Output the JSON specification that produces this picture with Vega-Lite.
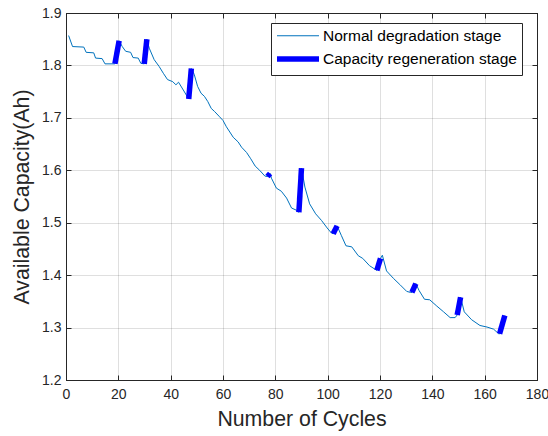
{
  "$schema": "https://vega.github.io/schema/vega-lite/v6.json",
  "width": 471,
  "height": 367,
  "autosize": "none",
  "padding": {"left": 66, "top": 13, "right": 11, "bottom": 56},
  "background": "white",
  "config": {
    "font": "Liberation Sans",
    "view": {"stroke": "#262626", "strokeWidth": 1},
    "axis": {
      "labelFont": "Liberation Sans",
      "titleFont": "Liberation Sans",
      "labelColor": "#262626",
      "titleColor": "#262626",
      "domainColor": "#262626",
      "tickColor": "#262626",
      "labelFontSize": 14,
      "titleFontSize": 21.3,
      "titleFontWeight": "normal",
      "gridColor": "#262626",
      "gridOpacity": 0.15,
      "tickSize": -5,
      "domainWidth": 1
    }
  },
  "datasets": {
    "normal": [
      {"cycle": 1, "cap": 1.857, "stage": "Normal degradation stage"},
      {"cycle": 2.5, "cap": 1.836, "stage": "Normal degradation stage"},
      {"cycle": 6.8, "cap": 1.835, "stage": "Normal degradation stage"},
      {"cycle": 7.7, "cap": 1.825, "stage": "Normal degradation stage"},
      {"cycle": 10.6, "cap": 1.824, "stage": "Normal degradation stage"},
      {"cycle": 11.3, "cap": 1.814, "stage": "Normal degradation stage"},
      {"cycle": 13.8, "cap": 1.813, "stage": "Normal degradation stage"},
      {"cycle": 14.9, "cap": 1.803, "stage": "Normal degradation stage"},
      {"cycle": 18.7, "cap": 1.803, "stage": "Normal degradation stage"},
      {"cycle": 20.3, "cap": 1.847, "stage": "Normal degradation stage"},
      {"cycle": 21.5, "cap": 1.836, "stage": "Normal degradation stage"},
      {"cycle": 22.8, "cap": 1.827, "stage": "Normal degradation stage"},
      {"cycle": 24.7, "cap": 1.825, "stage": "Normal degradation stage"},
      {"cycle": 25.6, "cap": 1.815, "stage": "Normal degradation stage"},
      {"cycle": 27.6, "cap": 1.814, "stage": "Normal degradation stage"},
      {"cycle": 28.6, "cap": 1.804, "stage": "Normal degradation stage"},
      {"cycle": 29.9, "cap": 1.803, "stage": "Normal degradation stage"},
      {"cycle": 30.9, "cap": 1.850, "stage": "Normal degradation stage"},
      {"cycle": 31.8, "cap": 1.833, "stage": "Normal degradation stage"},
      {"cycle": 33.7, "cap": 1.811, "stage": "Normal degradation stage"},
      {"cycle": 35.6, "cap": 1.798, "stage": "Normal degradation stage"},
      {"cycle": 37.2, "cap": 1.785, "stage": "Normal degradation stage"},
      {"cycle": 38.8, "cap": 1.773, "stage": "Normal degradation stage"},
      {"cycle": 40.8, "cap": 1.769, "stage": "Normal degradation stage"},
      {"cycle": 42.0, "cap": 1.763, "stage": "Normal degradation stage"},
      {"cycle": 43.0, "cap": 1.768, "stage": "Normal degradation stage"},
      {"cycle": 44.6, "cap": 1.755, "stage": "Normal degradation stage"},
      {"cycle": 46.9, "cap": 1.736, "stage": "Normal degradation stage"},
      {"cycle": 47.9, "cap": 1.794, "stage": "Normal degradation stage"},
      {"cycle": 49.0, "cap": 1.783, "stage": "Normal degradation stage"},
      {"cycle": 50.3, "cap": 1.760, "stage": "Normal degradation stage"},
      {"cycle": 51.6, "cap": 1.747, "stage": "Normal degradation stage"},
      {"cycle": 52.9, "cap": 1.741, "stage": "Normal degradation stage"},
      {"cycle": 54.2, "cap": 1.731, "stage": "Normal degradation stage"},
      {"cycle": 55.5, "cap": 1.718, "stage": "Normal degradation stage"},
      {"cycle": 56.8, "cap": 1.712, "stage": "Normal degradation stage"},
      {"cycle": 58.7, "cap": 1.702, "stage": "Normal degradation stage"},
      {"cycle": 60.0, "cap": 1.695, "stage": "Normal degradation stage"},
      {"cycle": 61.3, "cap": 1.683, "stage": "Normal degradation stage"},
      {"cycle": 62.6, "cap": 1.673, "stage": "Normal degradation stage"},
      {"cycle": 63.9, "cap": 1.663, "stage": "Normal degradation stage"},
      {"cycle": 65.8, "cap": 1.654, "stage": "Normal degradation stage"},
      {"cycle": 67.1, "cap": 1.644, "stage": "Normal degradation stage"},
      {"cycle": 69.0, "cap": 1.634, "stage": "Normal degradation stage"},
      {"cycle": 70.6, "cap": 1.622, "stage": "Normal degradation stage"},
      {"cycle": 72.3, "cap": 1.608, "stage": "Normal degradation stage"},
      {"cycle": 74.0, "cap": 1.600, "stage": "Normal degradation stage"},
      {"cycle": 76.0, "cap": 1.589, "stage": "Normal degradation stage"},
      {"cycle": 77.0, "cap": 1.588, "stage": "Normal degradation stage"},
      {"cycle": 78.0, "cap": 1.594, "stage": "Normal degradation stage"},
      {"cycle": 78.5, "cap": 1.585, "stage": "Normal degradation stage"},
      {"cycle": 80.4, "cap": 1.566, "stage": "Normal degradation stage"},
      {"cycle": 82.3, "cap": 1.560, "stage": "Normal degradation stage"},
      {"cycle": 84.3, "cap": 1.547, "stage": "Normal degradation stage"},
      {"cycle": 86.2, "cap": 1.528, "stage": "Normal degradation stage"},
      {"cycle": 88.0, "cap": 1.524, "stage": "Normal degradation stage"},
      {"cycle": 89.0, "cap": 1.520, "stage": "Normal degradation stage"},
      {"cycle": 90.0, "cap": 1.604, "stage": "Normal degradation stage"},
      {"cycle": 91.3, "cap": 1.568, "stage": "Normal degradation stage"},
      {"cycle": 93.1, "cap": 1.536, "stage": "Normal degradation stage"},
      {"cycle": 95.4, "cap": 1.517, "stage": "Normal degradation stage"},
      {"cycle": 97.7, "cap": 1.504, "stage": "Normal degradation stage"},
      {"cycle": 99.8, "cap": 1.490, "stage": "Normal degradation stage"},
      {"cycle": 101.5, "cap": 1.480, "stage": "Normal degradation stage"},
      {"cycle": 102.1, "cap": 1.479, "stage": "Normal degradation stage"},
      {"cycle": 103.6, "cap": 1.494, "stage": "Normal degradation stage"},
      {"cycle": 105.2, "cap": 1.476, "stage": "Normal degradation stage"},
      {"cycle": 107.0, "cap": 1.456, "stage": "Normal degradation stage"},
      {"cycle": 109.2, "cap": 1.454, "stage": "Normal degradation stage"},
      {"cycle": 111.7, "cap": 1.437, "stage": "Normal degradation stage"},
      {"cycle": 113.4, "cap": 1.432, "stage": "Normal degradation stage"},
      {"cycle": 116.0, "cap": 1.418, "stage": "Normal degradation stage"},
      {"cycle": 118.8, "cap": 1.409, "stage": "Normal degradation stage"},
      {"cycle": 120.2, "cap": 1.432, "stage": "Normal degradation stage"},
      {"cycle": 120.9, "cap": 1.438, "stage": "Normal degradation stage"},
      {"cycle": 122.5, "cap": 1.408, "stage": "Normal degradation stage"},
      {"cycle": 125.1, "cap": 1.394, "stage": "Normal degradation stage"},
      {"cycle": 127.6, "cap": 1.382, "stage": "Normal degradation stage"},
      {"cycle": 130.2, "cap": 1.369, "stage": "Normal degradation stage"},
      {"cycle": 131.7, "cap": 1.367, "stage": "Normal degradation stage"},
      {"cycle": 132.2, "cap": 1.367, "stage": "Normal degradation stage"},
      {"cycle": 133.7, "cap": 1.384, "stage": "Normal degradation stage"},
      {"cycle": 134.9, "cap": 1.371, "stage": "Normal degradation stage"},
      {"cycle": 137.0, "cap": 1.354, "stage": "Normal degradation stage"},
      {"cycle": 139.0, "cap": 1.353, "stage": "Normal degradation stage"},
      {"cycle": 141.7, "cap": 1.341, "stage": "Normal degradation stage"},
      {"cycle": 144.3, "cap": 1.330, "stage": "Normal degradation stage"},
      {"cycle": 146.8, "cap": 1.319, "stage": "Normal degradation stage"},
      {"cycle": 148.7, "cap": 1.319, "stage": "Normal degradation stage"},
      {"cycle": 149.5, "cap": 1.324, "stage": "Normal degradation stage"},
      {"cycle": 150.8, "cap": 1.358, "stage": "Normal degradation stage"},
      {"cycle": 152.2, "cap": 1.330, "stage": "Normal degradation stage"},
      {"cycle": 155.0, "cap": 1.315, "stage": "Normal degradation stage"},
      {"cycle": 158.2, "cap": 1.304, "stage": "Normal degradation stage"},
      {"cycle": 160.9, "cap": 1.301, "stage": "Normal degradation stage"},
      {"cycle": 163.4, "cap": 1.297, "stage": "Normal degradation stage"},
      {"cycle": 165.4, "cap": 1.288, "stage": "Normal degradation stage"},
      {"cycle": 165.7, "cap": 1.288, "stage": "Normal degradation stage"},
      {"cycle": 167.7, "cap": 1.323, "stage": "Normal degradation stage"}
    ],
    "regen": [
      {"seg": 1, "cycle": 18.7, "cap": 1.803, "stage": "Capacity regeneration stage"},
      {"seg": 1, "cycle": 20.3, "cap": 1.847, "stage": "Capacity regeneration stage"},
      {"seg": 2, "cycle": 29.9, "cap": 1.803, "stage": "Capacity regeneration stage"},
      {"seg": 2, "cycle": 30.9, "cap": 1.850, "stage": "Capacity regeneration stage"},
      {"seg": 3, "cycle": 46.9, "cap": 1.736, "stage": "Capacity regeneration stage"},
      {"seg": 3, "cycle": 47.9, "cap": 1.794, "stage": "Capacity regeneration stage"},
      {"seg": 4, "cycle": 77.0, "cap": 1.588, "stage": "Capacity regeneration stage"},
      {"seg": 4, "cycle": 78.0, "cap": 1.594, "stage": "Capacity regeneration stage"},
      {"seg": 5, "cycle": 89.0, "cap": 1.520, "stage": "Capacity regeneration stage"},
      {"seg": 5, "cycle": 90.0, "cap": 1.604, "stage": "Capacity regeneration stage"},
      {"seg": 6, "cycle": 102.1, "cap": 1.479, "stage": "Capacity regeneration stage"},
      {"seg": 6, "cycle": 103.6, "cap": 1.494, "stage": "Capacity regeneration stage"},
      {"seg": 7, "cycle": 118.8, "cap": 1.409, "stage": "Capacity regeneration stage"},
      {"seg": 7, "cycle": 120.2, "cap": 1.432, "stage": "Capacity regeneration stage"},
      {"seg": 8, "cycle": 132.2, "cap": 1.367, "stage": "Capacity regeneration stage"},
      {"seg": 8, "cycle": 133.7, "cap": 1.384, "stage": "Capacity regeneration stage"},
      {"seg": 9, "cycle": 149.5, "cap": 1.324, "stage": "Capacity regeneration stage"},
      {"seg": 9, "cycle": 150.8, "cap": 1.358, "stage": "Capacity regeneration stage"},
      {"seg": 10, "cycle": 165.7, "cap": 1.288, "stage": "Capacity regeneration stage"},
      {"seg": 10, "cycle": 167.7, "cap": 1.323, "stage": "Capacity regeneration stage"}
    ]
  },
  "resolve": {"axis": {"x": "independent", "y": "independent"}},
  "layer": [
    {
      "data": {"name": "normal"},
      "mark": {"type": "line", "strokeCap": "butt", "strokeJoin": "round"},
      "encoding": {
        "x": {
          "field": "cycle", "type": "quantitative",
          "scale": {"domain": [0, 180], "nice": false, "zero": false},
          "axis": {"title": "Number of Cycles", "values": [0, 20, 40, 60, 80, 100, 120, 140, 160, 180], "labelPadding": 12, "titlePadding": 7, "grid": true, "labelFlush": false}
        },
        "y": {
          "field": "cap", "type": "quantitative",
          "scale": {"domain": [1.2, 1.9], "nice": false, "zero": false},
          "axis": {"title": "Available Capacity(Ah)", "values": [1.2, 1.3, 1.4, 1.5, 1.6, 1.7, 1.8, 1.9], "format": ".1f", "labelPadding": 10, "titlePadding": 9, "grid": true, "labelFlush": false}
        },
        "color": {
          "field": "stage", "type": "nominal",
          "scale": {"domain": ["Normal degradation stage", "Capacity regeneration stage"], "range": ["#0072BD", "#0000FF"]},
          "legend": {"title": null, "orient": "none", "legendX": 205, "legendY": 10, "fillColor": "white", "strokeColor": "#262626", "padding": 5, "symbolType": "M-3,0H3", "symbolSize": 196, "symbolOffset": 12, "labelFontSize": 15.5, "labelFont": "Liberation Sans", "labelColor": "#000000", "labelOffset": 15, "labelLimit": 400, "rowPadding": 3, "cornerRadius": 0}
        },
        "strokeWidth": {
          "field": "stage", "type": "nominal",
          "scale": {"domain": ["Normal degradation stage", "Capacity regeneration stage"], "range": [1, 5.5]},
          "legend": {"title": null}
        }
      }
    },
    {
      "data": {"name": "regen"},
      "mark": {"type": "line", "strokeCap": "butt"},
      "encoding": {
        "x": {"field": "cycle", "type": "quantitative", "axis": {"orient": "top", "title": null, "labels": false, "grid": false, "values": [0, 20, 40, 60, 80, 100, 120, 140, 160, 180]}},
        "y": {"field": "cap", "type": "quantitative", "axis": {"orient": "right", "title": null, "labels": false, "grid": false, "values": [1.2, 1.3, 1.4, 1.5, 1.6, 1.7, 1.8, 1.9]}},
        "detail": {"field": "seg", "type": "nominal"},
        "color": {"field": "stage", "type": "nominal"},
        "strokeWidth": {"field": "stage", "type": "nominal"}
      }
    }
  ]
}
